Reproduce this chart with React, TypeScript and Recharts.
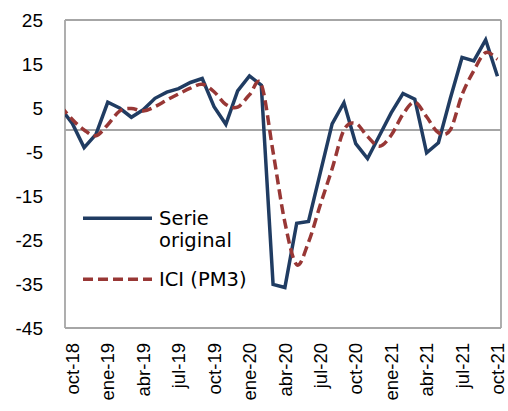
import React from 'react';
import { LineChart, Line, XAxis, YAxis, ReferenceLine, Legend } from 'recharts';

// Months (sep-18 is only partially visible at the left edge)
const months = [
  'sep-18', 'oct-18', 'nov-18', 'dic-18', 'ene-19', 'feb-19', 'mar-19', 'abr-19', 'may-19', 'jun-19',
  'jul-19', 'ago-19', 'sep-19', 'oct-19', 'nov-19', 'dic-19', 'ene-20', 'feb-20', 'mar-20', 'abr-20',
  'may-20', 'jun-20', 'jul-20', 'ago-20', 'sep-20', 'oct-20', 'nov-20', 'dic-20', 'ene-21', 'feb-21',
  'mar-21', 'abr-21', 'may-21', 'jun-21', 'jul-21', 'ago-21', 'sep-21', 'oct-21',
];

const serieOriginal = [
  5.0, 1.5, -4.0, -1.0, 6.3, 5.0, 2.9, 4.6, 7.2, 8.6,
  9.4, 10.8, 11.7, 5.3, 1.3, 8.9, 12.3, 10.2, -35.1, -35.8,
  -21.2, -20.8, -9.7, 1.4, 6.2, -3.1, -6.5, -1.3, 3.9, 8.3,
  7.0, -5.2, -2.9, 7.1, 16.5, 15.7, 20.5, 12.2,
];

const iciPM3 = [
  5.5, 2.4, 0.0, -1.3, 1.2, 4.3, 4.9, 4.3, 5.3, 6.8,
  8.2, 9.5, 10.4, 8.7, 5.8, 5.2, 8.0, 10.4, -5.0, -21.0,
  -30.6, -25.5, -17.0, -8.8, 0.0, 1.5, -1.5, -3.7, -1.2, 3.6,
  6.3, 3.0, -0.6, 0.0, 8.0, 13.5, 17.6, 16.1,
];

const xTickLabels = ['oct-18', 'ene-19', 'abr-19', 'jul-19', 'oct-19', 'ene-20', 'abr-20', 'jul-20', 'oct-20', 'ene-21', 'abr-21', 'jul-21', 'oct-21'];
const yTicks = [-45, -35, -25, -15, -5, 5, 15, 25];

const data = months.map((m, i) => ({ idx: i - 1, month: m, serie: serieOriginal[i], ici: iciPM3[i] }));
const xTicks = xTickLabels.map((l) => months.indexOf(l) - 1);
const labelByIdx: Record<number, string> = {};
data.forEach((d) => { labelByIdx[d.idx] = d.month; });

const X_MIN = -0.62;
const X_MAX = 36.3;

const BLUE = '#203c62';
const RED = '#983735';
const GRAY = '#a6a6a6';
const AXIS_FONT = 'Arial, "Liberation Sans", sans-serif';
const LEGEND_FONT = '"DejaVu Sans", sans-serif';

// Excel-like smoothed line (Catmull-Rom Bezier)
function excelSmooth(context: any) {
  let pts: [number, number][] = [];
  return {
    areaStart() {},
    areaEnd() {},
    lineStart() { pts = []; },
    point(x: number, y: number) { pts.push([+x, +y]); },
    lineEnd() {
      const n = pts.length;
      if (n === 0) return;
      context.moveTo(pts[0][0], pts[0][1]);
      for (let i = 0; i < n - 1; i++) {
        const p0 = pts[Math.max(i - 1, 0)];
        const p1 = pts[i];
        const p2 = pts[i + 1];
        const p3 = pts[Math.min(i + 2, n - 1)];
        context.bezierCurveTo(
          p1[0] + (p2[0] - p0[0]) / 6, p1[1] + (p2[1] - p0[1]) / 6,
          p2[0] - (p3[0] - p1[0]) / 6, p2[1] - (p3[1] - p1[1]) / 6,
          p2[0], p2[1],
        );
      }
    },
  };
}

const XTick = (props: any) => {
  const { x, payload } = props;
  const label = labelByIdx[payload.value] ?? '';
  return (
    <text
      transform={`translate(${x},343) rotate(-90)`}
      textAnchor="end"
      dy="0.36em"
      fontSize={18.5}
      fontFamily={AXIS_FONT}
      fill="#000"
    >
      {label}
    </text>
  );
};

const YTick = (props: any) => {
  const { y, payload } = props;
  return (
    <text x={43} y={y} dy="0.36em" textAnchor="end" fontSize={19} fontFamily={AXIS_FONT} fill="#000">
      {payload.value}
    </text>
  );
};

const LegendContent = () => (
  <svg width={200} height={100} style={{ display: 'block' }}>
    <line x1={3} x2={72} y1={18.3} y2={18.3} stroke={BLUE} strokeWidth={3.5} />
    <text x={79} y={25} fontSize={19.5} fontFamily={LEGEND_FONT} fill="#000">Serie</text>
    <text x={79} y={47} fontSize={19.5} fontFamily={LEGEND_FONT} fill="#000">original</text>
    <line x1={3} x2={72} y1={79.3} y2={79.3} stroke={RED} strokeWidth={3.5} strokeDasharray="10 5" />
    <text x={79} y={86} fontSize={19.5} fontFamily={LEGEND_FONT} fill="#000">ICI (PM3)</text>
  </svg>
);

export default function App() {
  return (
    <div style={{ position: 'absolute', left: 0, top: 0, width: 508, height: 411, background: '#fff' }}>
      <LineChart width={508} height={411} data={data} margin={{ top: 20, right: 7, bottom: 0, left: 0 }}>
        <XAxis
          type="number"
          dataKey="idx"
          domain={[X_MIN, X_MAX]}
          allowDataOverflow
          ticks={xTicks}
          interval={0}
          height={83}
          axisLine={false}
          tickLine={false}
          tick={<XTick />}
        />
        <YAxis
          type="number"
          domain={[-45, 25]}
          ticks={yTicks}
          interval={0}
          width={65}
          axisLine={false}
          tickLine={false}
          tick={<YTick />}
        />
        <ReferenceLine y={0} stroke={GRAY} strokeWidth={1.8} />
        <ReferenceLine y={25} stroke={GRAY} strokeWidth={1.8} />
        <ReferenceLine y={-45} stroke={GRAY} strokeWidth={1.8} />
        <ReferenceLine x={X_MIN} stroke={GRAY} strokeWidth={1.8} />
        <ReferenceLine x={X_MAX} stroke={GRAY} strokeWidth={1.8} />
        <Line
          dataKey="serie"
          type="linear"
          stroke={BLUE}
          strokeWidth={3.5}
          dot={false}
          activeDot={false}
          isAnimationActive={false}
          strokeLinejoin="miter"
        />
        <Line
          dataKey="ici"
          type={excelSmooth as any}
          stroke={RED}
          strokeWidth={3.5}
          strokeDasharray="10 5"
          dot={false}
          activeDot={false}
          isAnimationActive={false}
        />
        <Legend
          layout="vertical"
          align="center"
          verticalAlign="middle"
          content={<LegendContent />}
          wrapperStyle={{ position: 'absolute', left: 80, top: 200, width: 200, height: 100, margin: 0, padding: 0 }}
        />
      </LineChart>
    </div>
  );
}
